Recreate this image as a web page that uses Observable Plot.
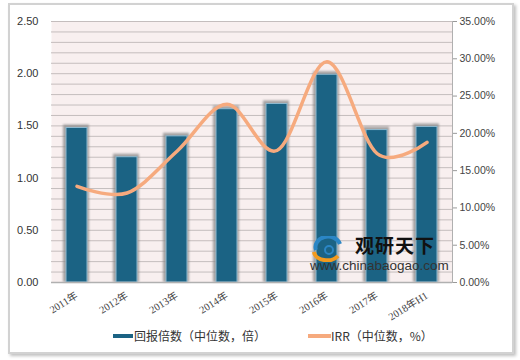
<!DOCTYPE html>
<html><head><meta charset="utf-8">
<script src="https://cdn.jsdelivr.net/npm/d3@7"></script>
<script src="https://cdn.jsdelivr.net/npm/@observablehq/plot@0.6"></script>
<style>
html,body{margin:0;padding:0;background:#fff;width:520px;height:360px;overflow:hidden;position:relative;}
#frame{position:absolute;left:8px;top:3px;width:502px;height:347px;border:2px solid #d2d2d2;box-shadow:2px 2px 3px rgba(0,0,0,0.25);background:#fff;}
#chart{position:absolute;left:0;top:0;}
.leg{position:absolute;font:12px "Noto Sans CJK SC",sans-serif;color:#333;white-space:nowrap;line-height:16px;}
.sw{position:absolute;height:4px;}
#wm{position:absolute;left:308px;top:234px;width:150px;height:42px;}
#wm1{position:absolute;left:47px;top:0px;font:bold 19px "Noto Sans CJK SC",sans-serif;color:#111;letter-spacing:1px;line-height:22px;}
#wm2{position:absolute;left:2px;top:24px;font:13.5px "Liberation Sans",Arial,sans-serif;color:#333;line-height:16px;}
</style></head>
<body>
<div id="frame"></div>
<div id="chart"></div>
<div class="sw" style="left:113px;top:334px;width:20px;background:#1b6384;"></div>
<div class="leg" style="left:134px;top:328px;">回报倍数（中位数，倍）</div>
<div class="sw" style="left:308px;top:334px;width:23px;background:#f6aa7e;"></div>
<div class="leg" style="left:331px;top:328px;">IRR（中位数，%）</div>
<div id="wm">
  <svg width="40" height="26" style="position:absolute;left:2px;top:2px;">
    <path d="M6,14 A12,10 0 0 1 30,8" fill="none" stroke="#2b86c5" stroke-width="4"/>
    <path d="M4,16 A13,9 0 0 0 28,20" fill="none" stroke="#f39a1e" stroke-width="4"/>
    <circle cx="19" cy="14" r="4" fill="none" stroke="#2b86c5" stroke-width="2"/>
  </svg>
  <div id="wm1">观研天下</div>
  <div id="wm2">www.chinabaogao.com</div>
</div>
<script>
const years = ["2011年","2012年","2013年","2014年","2015年","2016年","2017年","2018年H1"];
const multiples = [1.48, 1.20, 1.40, 1.66, 1.71, 1.99, 1.46, 1.49];
const irr = [12.9, 12.0, 17.6, 23.9, 17.7, 29.6, 17.3, 18.8];
const leftTicks = [0, 0.5, 1.0, 1.5, 2.0, 2.5];
const rightTicks = [0, 5, 10, 15, 20, 25, 30, 35];
const leftMax = 2.5, rightMax = 35;

const data = years.map((y, i) => ({year: y, m: multiples[i], irr: irr[i]}));
const toLeft = v => v / rightMax * leftMax;

const plot = Plot.plot({
  width: 520,
  height: 325,
  marginTop: 21,
  marginBottom: 43,
  marginLeft: 51,
  marginRight: 68,
  style: {background: "transparent", fontFamily: "Liberation Sans, Arial, sans-serif"},
  x: {domain: years, paddingInner: 0.58, paddingOuter: 0.29, label: null},
  y: {domain: [0, leftMax], label: null},
  marks: [
    Plot.frame({fill: "#f8efef", stroke: null}),
    Plot.gridY(d3.ticks(0, leftMax, 25), {stroke: "#c4bdbd", strokeOpacity: 1, strokeWidth: 1}),
    Plot.barY(data, {x: "year", y: "m", fill: "#888", fillOpacity: 0.75, insetLeft: -3, insetRight: -2, insetTop: -3}),
    Plot.barY(data, {x: "year", y: "m", fill: "#1b6384", stroke: "#8fbad0", strokeWidth: 1}),
    Plot.line(data, {x: "year", y: d => toLeft(d.irr), curve: "cardinal", stroke: "#f6aa7e", strokeWidth: 3.5}),
    Plot.ruleY([0], {stroke: "#b0b0b0", strokeWidth: 1.5}),
    Plot.frame({anchor: "right", stroke: "#b0b0b0"}),
    Plot.axisY(leftTicks, {anchor: "left", tickSize: 0, tickPadding: 13, tickFormat: d => d.toFixed(2), fontSize: 11, fill: "#333"}),
    Plot.axisY(rightTicks.map(toLeft), {anchor: "right", tickSize: 4, tickPadding: 3, stroke: "#999", tickFormat: d => Math.round(d / leftMax * rightMax).toFixed(2) + "%", fontSize: 10.5, fill: "#444"}),
    Plot.axisX({tickSize: 0, tickRotate: -32, tickPadding: 12, fontSize: 10.5, fill: "#444", fontFamily: "Liberation Serif, Noto Sans CJK SC, serif"})
  ]
});
document.getElementById("chart").appendChild(plot);

// soft blur for the bar shadows
const ns = "http://www.w3.org/2000/svg";
const defs = document.createElementNS(ns, "defs");
defs.innerHTML = '<filter id="sh" x="-50%" y="-50%" width="200%" height="200%"><feGaussianBlur stdDeviation="1.2"/></filter>';
plot.insertBefore(defs, plot.firstChild);
const bars = plot.querySelectorAll('g[aria-label="bar"]');
if (bars.length) bars[0].setAttribute("filter", "url(#sh)");
</script>
</body></html>
